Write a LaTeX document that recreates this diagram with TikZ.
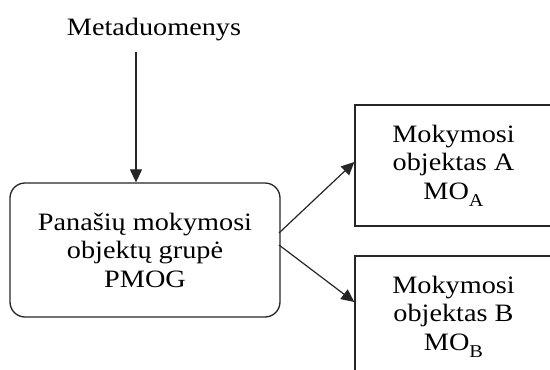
\documentclass[tikz,border=0pt]{standalone}
\usepackage{fontspec}
\setmainfont{Liberation Serif}[FakeStretch=1.13]
\usetikzlibrary{arrows.meta}
% deep, word-processor style subscript
\newcommand{\lowsub}[1]{\raisebox{-7pt}{\fontsize{18}{18}\selectfont #1}}
\begin{document}
\begin{tikzpicture}[x=1pt,y=-1pt,
  lbl/.style={font=\fontsize{25}{28.5}\selectfont, align=center, inner sep=0pt},
  groupbox/.style={lbl, draw=black!85, line width=1.3pt, rounded corners=15pt,
    minimum width=270pt, minimum height=134pt},
  objbox/.style={lbl, draw=black!85, line width=1.3pt,
    minimum width=197pt, minimum height=121pt},
  flow/.style={draw=black!85, line width=1.2pt,
    -{Triangle[length=13pt,width=12pt]}}]
\useasboundingbox (0,0) rectangle (550,370);
\clip (0,0) rectangle (550,370);

% source label and the group box it feeds
\node[lbl, anchor=base] (meta) at (154,35) {Metaduomenys};
\node[groupbox] (pmog) at (145,250) {Panašių mokymosi\\objektų grupė\\PMOG};

% the two learning objects
\node[objbox] (moa) at (453.5,165.5) {Mokymosi\\objektas A\\MO\lowsub{A}};
\node[objbox] (mob) at (453.5,316.5) {Mokymosi\\objektas B\\MO\lowsub{B}};

% connectors
\coordinate (metaout) at (136,52);
\draw[flow] (metaout) -- (metaout |- pmog.north);
\coordinate (outa) at (279,233);
\coordinate (outb) at (279,245);
\draw[flow] (outa) -- (moa.west |- 0,162);
\draw[flow] (outb) -- (mob.west |- 0,302);
\end{tikzpicture}
\end{document}
